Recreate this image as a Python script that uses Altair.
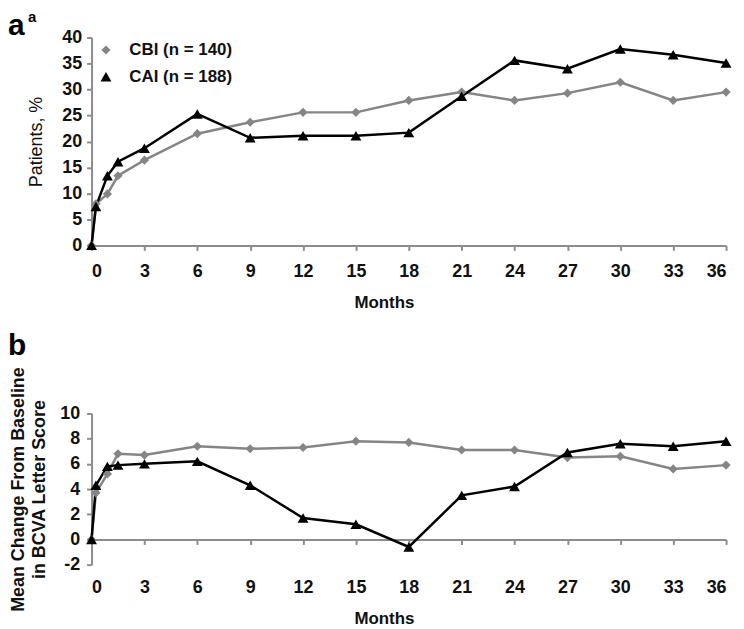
import altair as alt
import pandas as pd

# ---------------- data ----------------
months = [0, 0.25, 0.9, 1.5, 3, 6, 9, 12, 15, 18, 21, 24, 27, 30, 33, 36]
series_names = ["CBI (n = 140)", "CAI (n = 188)"]
series_colors = ["#858585", "#000000"]
series_shapes = ["diamond", "triangle-up"]
series_sizes = [85, 120]

# panel a: patients, %
cbi_pct = [0, 8.0, 9.9, 13.4, 16.4, 21.5, 23.7, 25.6, 25.6, 27.9, 29.5, 27.9, 29.3, 31.4, 27.9, 29.5]
cai_pct = [0, 7.5, 13.4, 16.1, 18.7, 25.3, 20.7, 21.1, 21.1, 21.7, 28.7, 35.6, 34.0, 37.8, 36.7, 35.1]
# panel b: mean change from baseline in BCVA letter score
cbi_bcva = [0, 3.7, 5.2, 6.8, 6.7, 7.4, 7.2, 7.3, 7.8, 7.7, 7.1, 7.1, 6.5, 6.6, 5.6, 5.9]
cai_bcva = [0, 4.3, 5.8, 5.9, 6.0, 6.2, 4.3, 1.7, 1.2, -0.6, 3.5, 4.2, 6.9, 7.6, 7.4, 7.8]

x_ticks = list(range(0, 37, 3))
ya_ticks = list(range(0, 41, 5))
yb_ticks = list(range(-2, 11, 2))
panel_labels = ["a", "a", "b"]


def long_df(v1, v2):
    rows = []
    for name, vals in zip(series_names, (v1, v2)):
        for m, v in zip(months, vals):
            rows.append({"month": m, "value": v, "series": name})
    return pd.DataFrame(rows)


df_a = long_df(cbi_pct, cai_pct)
df_b = long_df(cbi_bcva, cai_bcva)

FONT = "Liberation Sans"
AXC = "#8c8c8c"
TXT = "#111111"
W = 638
HA = 209
HB = 152

color_scale = alt.Scale(domain=series_names, range=series_colors)
shape_scale = alt.Scale(domain=series_names, range=series_shapes)
size_scale = alt.Scale(domain=series_names, range=series_sizes)
xs = alt.Scale(domain=[0, 36], nice=False, zero=False)

axis_style = dict(
    domainColor=AXC, domainWidth=2, tickColor=AXC, tickWidth=2, tickSize=5,
    labelFont=FONT, labelFontSize=18, labelFontWeight="bold", labelColor=TXT,
    titleFont=FONT, titleColor=TXT, grid=False,
)


def text_layer(txt, x, y, size):
    return alt.Chart(pd.DataFrame({"t": [txt]})).mark_text(
        font=FONT, fontSize=size, fontWeight="bold", align="left",
        baseline="alphabetic", color="black"
    ).encode(text="t:N", x=alt.value(x), y=alt.value(y))


def series_layers(df, ys, xaxis_first, xaxis_rest, yaxis, legend):
    layers = []
    for i, (name, col) in enumerate(zip(series_names, series_colors)):
        layers.append(
            alt.Chart(df).transform_filter(alt.datum.series == name)
            .mark_line(color=col, strokeWidth=2.5)
            .encode(
                x=alt.X("month:Q", scale=xs, axis=xaxis_first if i == 0 else xaxis_rest),
                y=alt.Y("value:Q", scale=ys, axis=yaxis),
            )
        )
    pts = alt.Chart(df).mark_point(filled=True, opacity=1).encode(
        x=alt.X("month:Q", scale=xs, axis=xaxis_rest),
        y=alt.Y("value:Q", scale=ys, axis=yaxis),
        color=alt.Color("series:N", scale=color_scale, legend=legend),
        shape=alt.Shape("series:N", scale=shape_scale, legend=legend),
        size=alt.Size("series:N", scale=size_scale, legend=None),
    )
    layers.append(pts)
    return layers


legend_a = alt.Legend(
    orient="none", legendX=6, legendY=4, title=None, direction="vertical",
    labelFont=FONT, labelFontSize=17, labelFontWeight="bold", labelColor=TXT,
    symbolSize=110, rowPadding=9, labelOffset=15, symbolStrokeWidth=0,
)

# ---------------- panel a ----------------
ys_a = alt.Scale(domain=[0, 40], nice=False, zero=False)
xaxis_a = alt.Axis(values=x_ticks, title="Months", titleFontSize=17, titleFontWeight="bold",
                   titleX=294, labelPadding=12, titlePadding=14, **axis_style)
yaxis_a = alt.Axis(values=ya_ticks, title="Patients, %", titleFontSize=18, titleFontWeight="normal",
                   labelPadding=5, titlePadding=16, **axis_style)

panel_a = alt.layer(
    *series_layers(df_a, ys_a, xaxis_a, xaxis_a, yaxis_a, legend_a),
    text_layer(panel_labels[0], -84, -3, 30),
    text_layer(panel_labels[1], -64, -16, 15),
).properties(width=W, height=HA)

# ---------------- panel b ----------------
ys_b = alt.Scale(domain=[-2, 10], nice=False, zero=False)
xaxis_b = alt.Axis(values=x_ticks, title="Months", titleFontSize=17, titleFontWeight="bold",
                   titleX=294, domain=False, ticks=False, labelPadding=14, titlePadding=14,
                   orient="bottom", **axis_style)
yaxis_b = alt.Axis(values=yb_ticks, title=["Mean Change From Baseline", "in BCVA Letter Score"],
                   titleFontSize=18, titleFontWeight="bold", titleLineHeight=21,
                   labelExpr="'' + datum.value",
                   labelPadding=7, titlePadding=11, **axis_style)

zero_axis = alt.Chart(df_b).mark_point(opacity=0).encode(
    x=alt.X("month:Q", scale=xs,
            axis=alt.Axis(orient="bottom", values=x_ticks, labels=False, title=None,
                          offset=-HB * 2 / 12, **axis_style)),
    y=alt.Y("value:Q", scale=ys_b, axis=yaxis_b),
)

panel_b = alt.layer(
    zero_axis,
    *series_layers(df_b, ys_b, xaxis_b, None, yaxis_b, None),
    text_layer(panel_labels[2], -84, -59, 30),
).resolve_axis(x="independent").properties(width=W, height=HB)

chart = alt.vconcat(panel_a, panel_b, spacing=169, bounds="flush").resolve_legend(
    color="independent", shape="independent", size="independent"
).properties(
    padding={"left": 0, "top": 0, "right": 4, "bottom": 0}, background="white"
).configure_view(stroke=None)

chart.save("out.html", embed_options={"renderer": "svg", "actions": False})
